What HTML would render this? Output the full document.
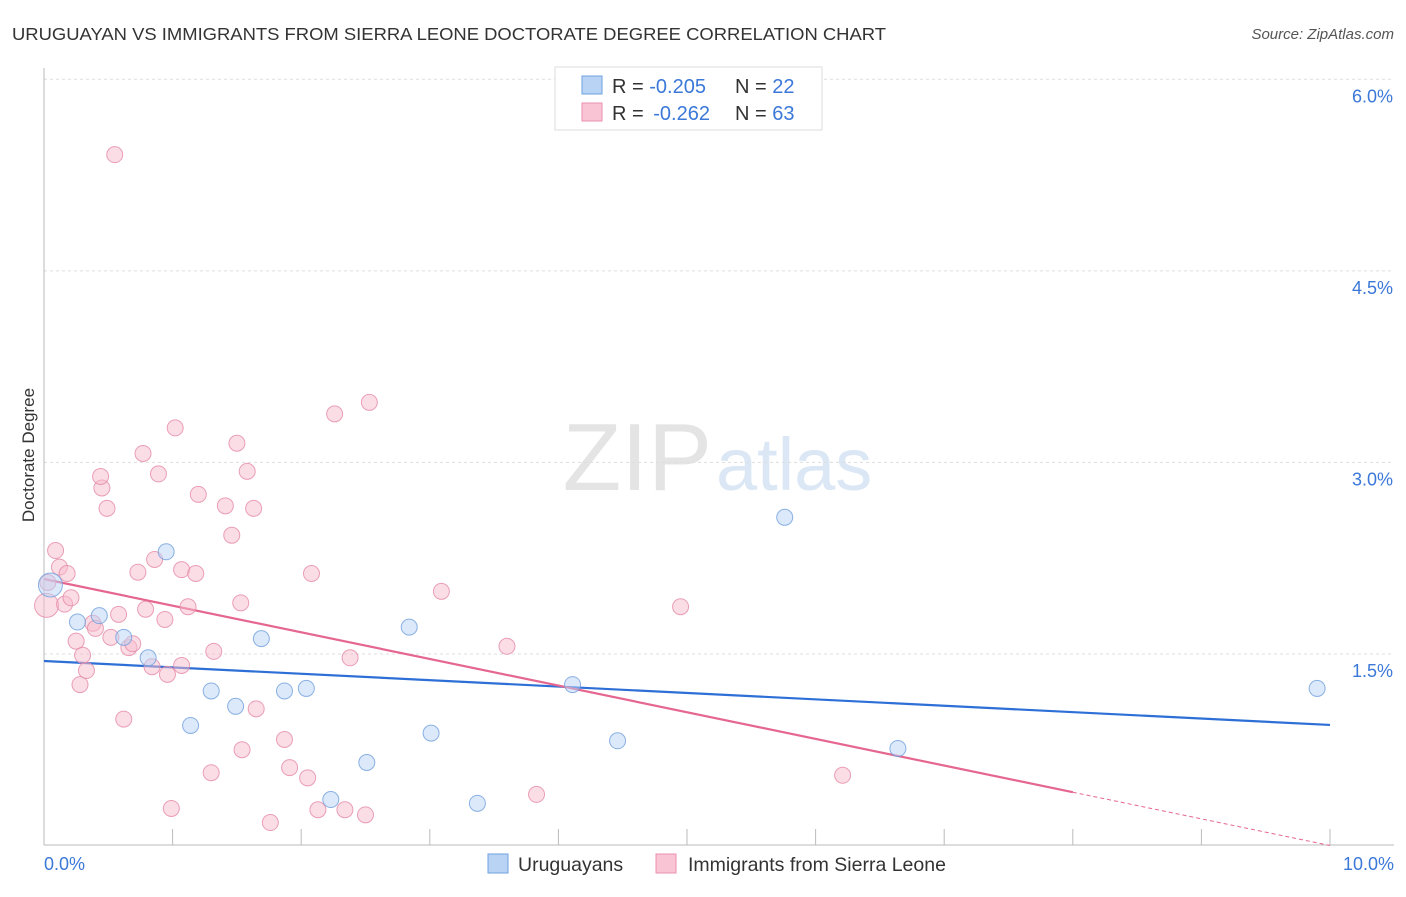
<!DOCTYPE html>
<html><head><meta charset="utf-8"><style>
body{margin:0;background:#fff;font-family:"Liberation Sans",sans-serif;}
svg text{font-family:"Liberation Sans",sans-serif;}
</style></head><body>
<svg id="chart" width="1406" height="892" xmlns="http://www.w3.org/2000/svg">
<text x="12" y="40" font-size="17.5" fill="#333" textLength="874" lengthAdjust="spacingAndGlyphs">URUGUAYAN VS IMMIGRANTS FROM SIERRA LEONE DOCTORATE DEGREE CORRELATION CHART</text>
<text x="1394" y="39" font-size="15" fill="#555" text-anchor="end" font-style="italic">Source: ZipAtlas.com</text>
<text x="712" y="490" font-size="96" fill="#e4e4e4" text-anchor="end" font-family="Liberation Serif">ZIP</text>
<text x="716" y="490" font-size="74" fill="#dbe7f5">atlas</text>
<g id="grid"></g><g id="axes"></g><g id="lines"></g><g id="pts"></g>
<text transform="translate(34,455) rotate(-90)" font-size="17" fill="#333" text-anchor="middle">Doctorate Degree</text>
<text x="44" y="870" font-size="18" fill="#3b78d8">0.0%</text>
<text x="1394" y="870" font-size="18" fill="#3b78d8" text-anchor="end">10.0%</text>
<g>
<rect x="555" y="67" width="267" height="63" fill="#fff" stroke="#ddd"/>
<rect x="582" y="76" width="20" height="18" fill="#b9d3f5" stroke="#6fa0e0"/>
<rect x="582" y="103" width="20" height="18" fill="#f9c5d5" stroke="#e990ae"/>
<text x="612" y="93" font-size="20" fill="#333">R = <tspan fill="#3b78d8">-0.205</tspan><tspan x="735">N = </tspan><tspan fill="#3b78d8">22</tspan></text>
<text x="612" y="120" font-size="20" fill="#333">R = <tspan fill="#3b78d8" dx="4">-0.262</tspan><tspan x="735">N = </tspan><tspan fill="#3b78d8">63</tspan></text>
</g>
<g>
<rect x="488" y="854" width="20" height="19" fill="#b9d3f5" stroke="#6fa0e0"/>
<text x="518" y="871" font-size="19.5" fill="#333">Uruguayans</text>
<rect x="656" y="854" width="20" height="19" fill="#f9c5d5" stroke="#e990ae"/>
<text x="688" y="871" font-size="19.5" fill="#333">Immigrants from Sierra Leone</text>
</g>
</svg>
<script>
const yTicks=[1.5,3.0,4.5,6.0];
const yTickLabels=["1.5%","3.0%","4.5%","6.0%"];
const blueX=[.05,.26,.43,.62,.81,.95,1.14,1.30,1.49,1.69,1.87,2.04,2.23,2.51,2.84,3.01,3.37,4.11,4.46,5.76,6.64,9.90];
const blueY=[2.04,1.75,1.80,1.63,1.47,2.30,.94,1.21,1.09,1.62,1.21,1.23,.36,.65,1.71,.88,.33,1.26,.82,2.57,.76,1.23];
const pinkX=[.02,.09,.12,.18,.16,.21,.25,.28,.30,.33,.38,.40,.45,.44,.49,.52,.55,.58,.62,.66,.69,.73,.77,.79,.84,.86,.89,.94,.96,.99,1.02,1.07,1.07,1.12,1.18,1.20,1.30,1.32,1.41,1.46,1.50,1.53,1.54,1.58,1.63,1.65,1.76,1.87,1.91,2.05,2.08,2.13,2.26,2.34,2.38,2.50,2.53,3.09,3.60,3.83,4.95,6.21,.03];
const pinkY=[1.88,2.31,2.18,2.13,1.89,1.94,1.60,1.26,1.49,1.37,1.74,1.70,2.80,2.89,2.64,1.63,5.41,1.81,.99,1.55,1.58,2.14,3.07,1.85,1.40,2.24,2.91,1.77,1.34,.29,3.27,2.16,1.41,1.87,2.13,2.75,.57,1.52,2.66,2.43,3.15,1.90,.75,2.93,2.64,1.07,.18,.83,.61,.53,2.13,.28,3.38,.28,1.47,.24,3.47,1.99,1.56,.40,1.87,.55,2.06];
const blueTrend=[1.445,0.944];
const pinkTrend=[2.087,0.0];
const pinkSolidEnd=8.0;
const NS="http://www.w3.org/2000/svg";
const xs=v=>44+v*128.6, ys=v=>845.5-v*127.7;
function mk(t,a,p){const e=document.createElementNS(NS,t);for(const k in a)e.setAttribute(k,a[k]);document.getElementById(p).appendChild(e);return e;}
yTicks.forEach((t,i)=>{
 const g=mk('line',{x1:44,x2:1394,y1:ys(t),y2:ys(t),stroke:'#ddd','stroke-dasharray':'3,3'},'grid');
 
 
 const l=mk('text',{x:1393,y:ys(t)+23,'font-size':18,fill:'#3b78d8','text-anchor':'end'},'grid');l.textContent=yTickLabels[i];
 
 
});
const ga=mk('line',{x1:44,x2:44,y1:68,y2:845,stroke:'#bbb'},'axes');


const gx=mk('line',{x1:44,x2:1394,y1:845,y2:845,stroke:'#bbb'},'axes');


for(let i=0;i<=10;i++){const t=mk('line',{x1:xs(i),x2:xs(i),y1:829,y2:845,stroke:'#bbb'},'axes');
 
 }
function pt(x,y,f,s,r,n){const c=mk('circle',{cx:xs(x),cy:ys(y),r:r,fill:f,'fill-opacity':0.5,stroke:s,'stroke-width':1,'stroke-opacity':0.8},'pts');
 
 }
pinkX.forEach((x,i)=>pt(x,pinkY[i],'#f7bccd','#e58aa8',i==0?12:8,'pink-point'));
blueX.forEach((x,i)=>pt(x,blueY[i],'#b9d3f5','#6f9fdc',i==0?12:8,'blue-point'));
const bl=mk('line',{x1:xs(0),y1:ys(blueTrend[0]),x2:xs(10),y2:ys(blueTrend[1]),stroke:'#2d6fd6','stroke-width':2.2},'lines');


const pe=pinkTrend[0]+(pinkTrend[1]-pinkTrend[0])*pinkSolidEnd/10;
const pl=mk('line',{x1:xs(0),y1:ys(pinkTrend[0]),x2:xs(pinkSolidEnd),y2:ys(pe),stroke:'#e5668f','stroke-width':2.2},'lines');


const pd=mk('line',{x1:xs(pinkSolidEnd),y1:ys(pe),x2:xs(10),y2:ys(pinkTrend[1]),stroke:'#e5668f','stroke-width':1,'stroke-dasharray':'4,3'},'lines');


</script>
</body></html>
